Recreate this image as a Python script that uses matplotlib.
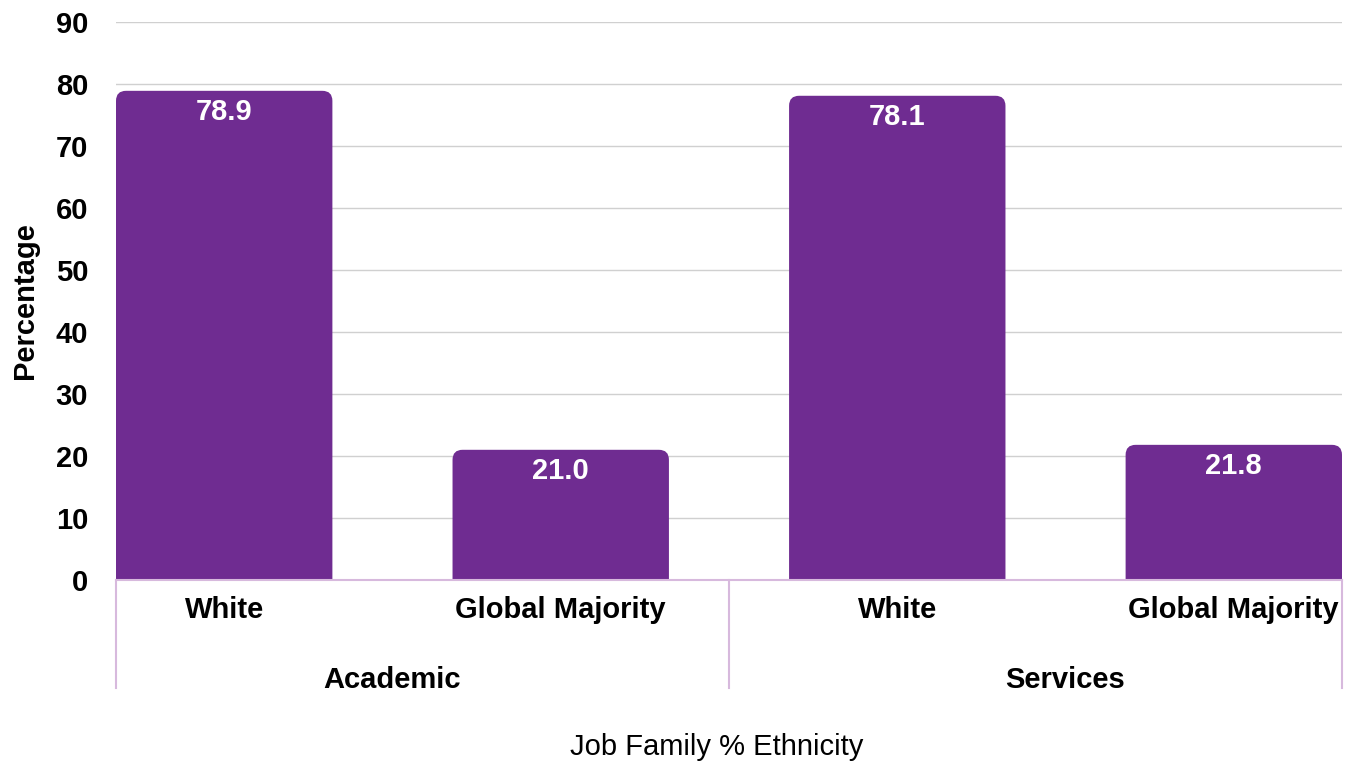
import matplotlib
matplotlib.use("Agg")
import matplotlib.pyplot as plt
from matplotlib.patches import FancyBboxPatch
from matplotlib.lines import Line2D
from matplotlib import transforms

plt.rcParams['font.family'] = ['Liberation Sans', 'DejaVu Sans']

# Data
groups = ["Academic", "Services"]
categories = ["White", "Global Majority", "White", "Global Majority"]
values = [78.9, 21.0, 78.1, 21.8]
yticks = [0, 10, 20, 30, 40, 50, 60, 70, 80, 90]

BAR_COLOR = "#6F2C91"
AXIS_COLOR = "#D7B9DD"
GRID_COLOR = "#D0D0D0"

W, H = 1352, 768
fig = plt.figure(figsize=(W / 100, H / 100), dpi=100)
ax = fig.add_axes([116 / W, (H - 580) / H, 1226 / W, 558 / H])

bw = 0.643
x = list(range(len(values)))
ax.set_xlim(-bw / 2, len(values) - 1 + bw / 2)
ax.set_ylim(0, 90)

# grid
ax.set_yticks(yticks)
ax.set_yticklabels([str(t) for t in yticks], fontsize=21, fontweight='bold')
ax.tick_params(axis='y', length=0, pad=20)
ax.set_xticks([])
ax.grid(axis='y', color=GRID_COLOR, linewidth=1)
ax.set_axisbelow(True)
for s in ax.spines.values():
    s.set_visible(False)

# bars with rounded tops
bars = ax.bar(x, values, width=bw, color=BAR_COLOR)
px_x = 1226 / (len(values) - 1 + bw)
px_y = 558 / 90
rx = 10 / px_x
ry = 10 / px_y
for b in bars:
    b.set_visible(False)
    x0, w, h = b.get_x(), b.get_width(), b.get_height()
    p = FancyBboxPatch((x0, -ry), w, h + ry,
                       boxstyle=f"round,pad=0,rounding_size={rx}",
                       mutation_aspect=ry / rx,
                       facecolor=BAR_COLOR, edgecolor='none', zorder=2)
    ax.add_patch(p)
    ax.text(x0 + w / 2, h - 21 / px_y, f"{h:.1f}", ha='center', va='center',
            color='white', fontsize=21, fontweight='bold', zorder=3)

# baseline
ax.axhline(0, color=AXIS_COLOR, linewidth=1.5, zorder=4, clip_on=False)

# category and group labels
trans = transforms.blended_transform_factory(ax.transData, ax.transAxes)
for xi, c in zip(x, categories):
    ax.text(xi, -30 / 558, c, transform=trans, ha='center', va='center',
            fontsize=21, fontweight='bold')
for gi, g in enumerate(groups):
    ax.text(gi * 2 + 0.5, -100 / 558, g, transform=trans, ha='center',
            va='center', fontsize=21, fontweight='bold')

# group separators
for sx in [-bw / 2, 1.5, len(values) - 1 + bw / 2]:
    ax.add_line(Line2D([sx, sx], [0, -108 / 558], transform=trans,
                       color=AXIS_COLOR, linewidth=1.5, clip_on=False))

ax.set_ylabel("Percentage", fontsize=21, fontweight='bold', labelpad=12)
fig.text(717 / W, 1 - 747 / H, "Job Family % Ethnicity", ha='center',
         va='center', fontsize=21)

fig.savefig("out.png", dpi=100)
